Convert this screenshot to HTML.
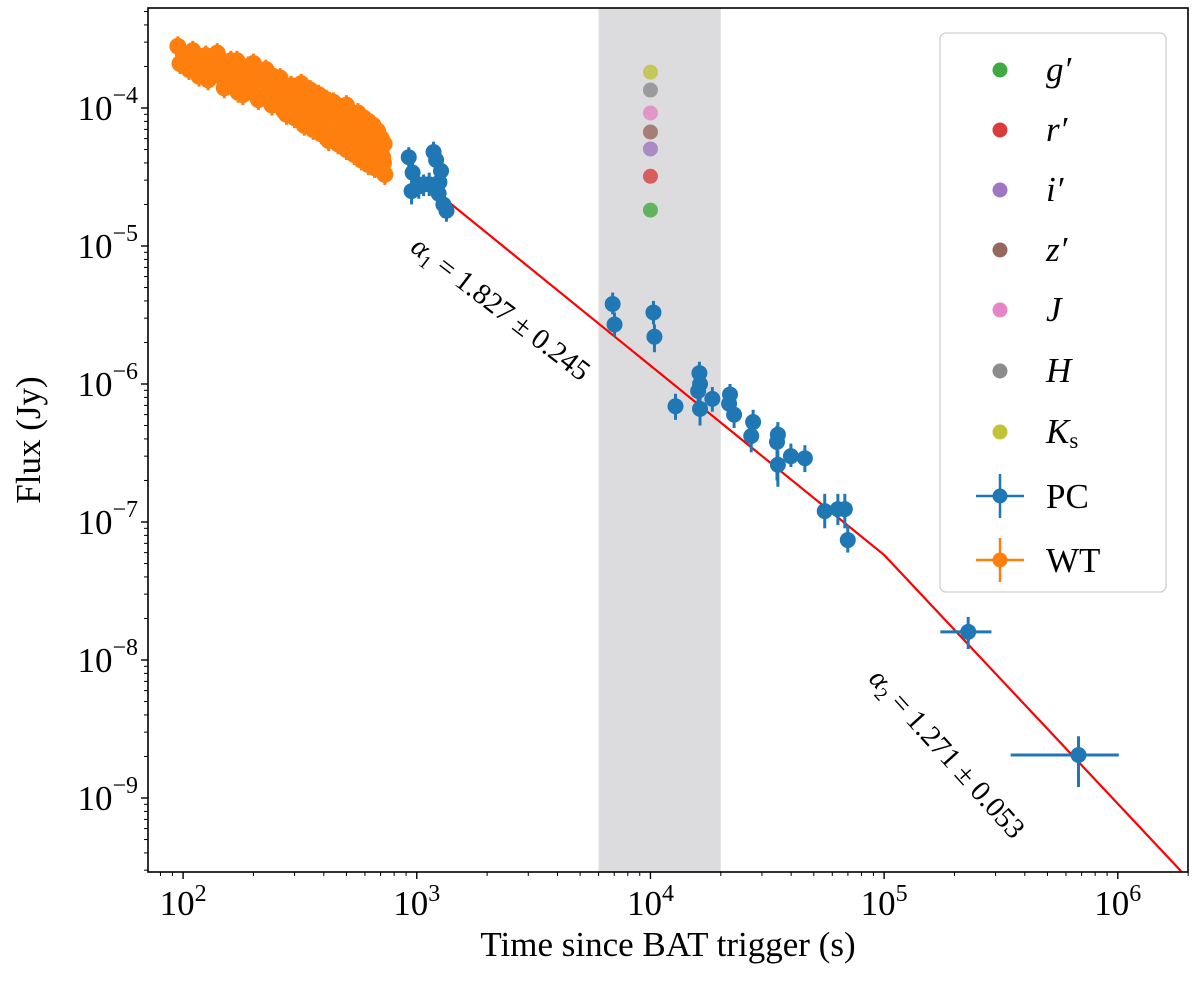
<!DOCTYPE html>
<html><head><meta charset="utf-8">
<style>
html,body{margin:0;padding:0;background:#fff;}
svg{display:block;font-family:"Liberation Serif","DejaVu Serif",serif;}
</style></head>
<body>
<svg id="chart" width="1200" height="982" viewBox="0 0 1200 982" xmlns="http://www.w3.org/2000/svg">
<rect width="1200" height="982" fill="#fff"/>
</svg>
<script>
// ---- data ----
const shadeRange = [6000, 20000];
const optBands = ["g′","r′","i′","z′","J","H","Ks"];
const optColors = ["#2ca02c","#d62728","#9467bd","#8c564b","#e377c2","#7f7f7f","#bcbd22"];
const optTime = [10000,10000,10000,10000,10000,10000,10000];
const optFlux = [1.82e-5,3.2e-5,5.05e-5,6.7e-5,9.2e-5,1.35e-4,1.82e-4];

const wtTime = [95,97,100,103,106,110,113,117,120,124,128,132,136,140,145,150,155,160,166,172,178,184,190,197,204,211,218,226,234,242,250,259,268,277,287,297,307,318,329,340,352,364,377,390,404,418,432,447,463,479,496,513,531,549,568,588,608,629,651,673,696,710,720,730,700,680,660,
 150,165,180,195,210,225,240,255,270,285,300,315,330,345,360,375,390,405,420,440,460,480,500,520,540,560,580,600,620,640,660,690,715,
 110,125,140,170,200,230,260,290,320,350,380,410,440,470,500,530,560,590,620,650,680,705,725];
const wtFlux = [2.8e-4,2.1e-4,2.5e-4,2.2e-4,1.9e-4,2.4e-4,2.0e-4,1.7e-4,2.3e-4,1.9e-4,1.6e-4,2.2e-4,1.8e-4,2.3e-4,1.7e-4,2.0e-4,1.6e-4,2.2e-4,1.8e-4,1.3e-4,1.9e-4,1.6e-4,2.0e-4,1.5e-4,1.8e-4,1.2e-4,1.6e-4,1.9e-4,1.4e-4,1.7e-4,1.1e-4,1.5e-4,1.3e-4,9.0e-5,1.4e-4,1.2e-4,1.0e-4,1.35e-4,1.1e-4,8.5e-5,1.2e-4,9.5e-5,1.1e-4,8.0e-5,1.0e-4,8.8e-5,6.5e-5,9.5e-5,7.5e-5,8.5e-5,6.0e-5,7.8e-5,5.5e-5,7.0e-5,8.0e-5,6.2e-5,5.0e-5,7.2e-5,5.6e-5,6.5e-5,4.5e-5,5.8e-5,4.0e-5,3.3e-5,5.0e-5,3.9e-5,4.8e-5,
 1.4e-4,1.5e-4,1.25e-4,1.35e-4,1.15e-4,1.2e-4,1.05e-4,1.1e-4,9.5e-5,1.0e-4,8.5e-5,9.0e-5,7.5e-5,8.0e-5,7.0e-5,7.2e-5,6.5e-5,6.8e-5,5.8e-5,6.3e-5,5.5e-5,5.9e-5,5.0e-5,5.4e-5,4.6e-5,5.0e-5,4.2e-5,4.6e-5,3.9e-5,4.3e-5,3.7e-5,3.6e-5,4.4e-5,
 2.6e-4,2.4e-4,2.5e-4,2.2e-4,2.1e-4,1.75e-4,1.65e-4,1.45e-4,1.5e-4,1.35e-4,1.25e-4,1.15e-4,1.1e-4,1.0e-4,1.05e-4,9.0e-5,9.2e-5,8.5e-5,8.0e-5,7.5e-5,6.8e-5,6.0e-5,5.5e-5];

const pcTime = [924,960,950,1020,1070,1130,1180,1210,1240,1250,1270,1300,1340,6890,7020,10300,10400,12800,16200,16300,16000,16300,18400,21900,21700,22800,27500,27000,35100,34800,35100,39900,45800,55700,63400,67900,69900,229000,679000];
const pcFlux = [4.4e-5,3.4e-5,2.5e-5,2.7e-5,2.8e-5,2.8e-5,4.8e-5,4.2e-5,2.4e-5,2.9e-5,3.5e-5,2.0e-5,1.8e-5,3.8e-6,2.7e-6,3.3e-6,2.2e-6,6.9e-7,1.2e-6,1.0e-6,8.9e-7,6.6e-7,7.8e-7,8.4e-7,7.2e-7,6.0e-7,5.3e-7,4.2e-7,4.3e-7,3.8e-7,2.6e-7,3.0e-7,2.9e-7,1.2e-7,1.24e-7,1.24e-7,7.4e-8,1.6e-8,2.05e-9];
const pcFluxLo = [3.7e-5,2.8e-5,2.0e-5,2.2e-5,2.3e-5,2.3e-5,4.0e-5,3.5e-5,1.9e-5,2.3e-5,2.9e-5,1.6e-5,1.5e-5,3.2e-6,2.2e-6,2.7e-6,1.7e-6,5.5e-7,9.5e-7,8.0e-7,7.0e-7,5.0e-7,6.3e-7,6.8e-7,5.8e-7,4.8e-7,4.3e-7,3.2e-7,3.5e-7,2.0e-7,1.8e-7,2.5e-7,2.3e-7,9.0e-8,9.5e-8,9.0e-8,6.0e-8,1.2e-8,1.2e-9];
const pcFluxHi = [5.2e-5,4.1e-5,3.0e-5,3.2e-5,3.3e-5,3.4e-5,5.7e-5,5.0e-5,2.9e-5,3.5e-5,4.1e-5,2.4e-5,2.1e-5,4.6e-6,3.3e-6,4.0e-6,2.7e-6,8.5e-7,1.45e-6,1.2e-6,1.1e-6,8.2e-7,9.5e-7,1.0e-6,8.6e-7,7.3e-7,6.5e-7,5.2e-7,5.3e-7,5.0e-7,3.3e-7,3.7e-7,3.6e-7,1.6e-7,1.6e-7,1.6e-7,9.5e-8,2.05e-8,2.8e-9];
const pcTimeLo = [null,null,null,null,null,null,null,null,null,null,null,null,null,null,null,null,null,null,null,null,null,null,null,null,null,null,null,null,null,null,null,null,null,null,null,null,null,174000,348000];
const pcTimeHi = [null,null,null,null,null,null,null,null,null,null,null,null,null,null,null,null,null,null,null,null,null,null,null,null,null,null,null,null,null,null,null,null,null,null,null,null,null,288000,1010000];

const fitTime = [1010, 100000, 1880000];
const fitFlux = [3.16e-5, 5.77e-8, 2.91e-10];

const xTickExp = [2,3,4,5,6];
const yTickExp = [-4,-5,-6,-7,-8,-9];

// ---- axes ----
const L=148, R=1188, T=8, B=872;
const xLogMin = 2 - 35/233, xLogMax = 6 + 70/233;
const yLogMax = -4 + 100/138, yLogMin = -4 - 764/138;
const X = t => L + (Math.log10(t) - xLogMin) / (xLogMax - xLogMin) * (R - L);
const Y = f => T + (yLogMax - Math.log10(f)) / (yLogMax - yLogMin) * (B - T);

const NS="http://www.w3.org/2000/svg";
const svg=document.getElementById('chart');
function mk(tag, attrs, parent){const e=document.createElementNS(NS,tag);for(const k in attrs)e.setAttribute(k,attrs[k]);(parent||svg).appendChild(e);return e;}

const band=mk('rect',{x:X(shadeRange[0]),y:T,width:X(shadeRange[1])-X(shadeRange[0]),height:B-T,fill:'#dcdcde'});



const wtG=mk('g',{});


wtTime.forEach((t,i)=>{
  const x=X(t), y=Y(wtFlux[i]);
  mk('line',{x1:x,x2:x,y1:Y(wtFlux[i]*1.18),y2:Y(wtFlux[i]*0.84),stroke:'#ff7f0e','stroke-width':3},wtG);
  const c=mk('circle',{cx:x,cy:y,r:8.5,fill:'#ff7f0e'},wtG);
  
  
});

const fit=mk('polyline',{points:fitTime.map((t,i)=>X(t)+','+Y(fitFlux[i])).join(' '),fill:'none',stroke:'#ff0000','stroke-width':2.2});



const pcG=mk('g',{});


pcTime.forEach((t,i)=>{
  const x=X(t), y=Y(pcFlux[i]);
  mk('line',{x1:x,x2:x,y1:Y(pcFluxHi[i]),y2:Y(pcFluxLo[i]),stroke:'#1f77b4','stroke-width':3},pcG);
  if(pcTimeLo[i]) mk('line',{x1:X(pcTimeLo[i]),x2:X(pcTimeHi[i]),y1:y,y2:y,stroke:'#1f77b4','stroke-width':3},pcG);
  const c=mk('circle',{cx:x,cy:y,r:8,fill:'#1f77b4'},pcG);
  
  
});

optTime.forEach((t,i)=>{
  const c=mk('circle',{cx:X(t),cy:Y(optFlux[i]),r:7.5,fill:optColors[i],opacity:0.7});
  
  
});

const fr=mk('rect',{x:L,y:T,width:R-L,height:B-T,fill:'none',stroke:'#000','stroke-width':1.6});



for(let e=1;e<=6;e++){for(let m=1;m<10;m++){const v=m*Math.pow(10,e);const x=X(v);if(x<L-0.5||x>R+0.5)continue;
  mk('line',{x1:x,x2:x,y1:B,y2:B+(m===1?7:4),stroke:'#000','stroke-width':m===1?1.4:1});}}
xTickExp.forEach(e=>{
  const tx=mk('text',{x:X(Math.pow(10,e)),y:B+43,'text-anchor':'middle','font-size':35});
  
  
  tx.innerHTML='10<tspan dy="-14" font-size="24">'+e+'</tspan>';
});
for(let e=-11;e<=-3;e++){for(let m=1;m<10;m++){const v=m*Math.pow(10,e);const y=Y(v);if(y<T-0.5||y>B+0.5)continue;
  mk('line',{x1:L,x2:L-(m===1?7:4),y1:y,y2:y,stroke:'#000','stroke-width':m===1?1.4:1});}}
yTickExp.forEach(e=>{
  const tx=mk('text',{x:138,y:Y(Math.pow(10,e))+12,'text-anchor':'end','font-size':35});
  
  
  tx.innerHTML='10<tspan dy="-17" font-size="24">−'+(-e)+'</tspan>';
});
const xl=mk('text',{x:668,y:956,'text-anchor':'middle','font-size':35});


xl.textContent='Time since BAT trigger (s)';
const yl=mk('text',{x:0,y:0,'text-anchor':'middle','font-size':35,transform:'translate(40,440) rotate(-90)'});


yl.textContent='Flux (Jy)';

const a1=mk('text',{x:0,y:0,'text-anchor':'middle','font-size':29,transform:'translate(495,316) rotate(37.5)'});


a1.innerHTML='<tspan font-style="italic">α</tspan><tspan font-size="19" dy="6">1</tspan><tspan dy="-6"> = 1.827 ± 0.245</tspan>';
const a2=mk('text',{x:0,y:0,'text-anchor':'middle','font-size':29,transform:'translate(940,760) rotate(48)'});


a2.innerHTML='<tspan font-style="italic">α</tspan><tspan font-size="19" dy="6">2</tspan><tspan dy="-6"> = 1.271 ± 0.053</tspan>';

const lg=mk('g',{});


mk('rect',{x:940,y:33,width:226,height:559,rx:6,fill:'#fff','fill-opacity':0.85,stroke:'#d0d0d0','stroke-width':1.3},lg);
const legY=[70,130,190,250,310,371,432,496,560];
optBands.forEach((b,i)=>{
  const y=legY[i];
  mk('circle',{cx:1000,cy:y,r:7.5,fill:optColors[i],opacity:0.9},lg);
  const t=mk('text',{x:1046,y:y+11,'font-size':35,'font-style':'italic'},lg);
  
  
  if(b==='Ks') t.innerHTML='K<tspan font-style="normal" font-size="23" dy="5">s</tspan>'; else t.textContent=b;
});
[['PC','#1f77b4'],['WT','#ff7f0e']].forEach((p,j)=>{
  const y=legY[7+j];
  mk('line',{x1:976,x2:1024,y1:y,y2:y,stroke:p[1],'stroke-width':2.5},lg);
  mk('line',{x1:1000,x2:1000,y1:y-22,y2:y+22,stroke:p[1],'stroke-width':2.5},lg);
  mk('circle',{cx:1000,cy:y,r:7.5,fill:p[1]},lg);
  const t=mk('text',{x:1046,y:y+12,'font-size':35},lg);
  
  
  t.textContent=p[0];
});
</script>
</body></html>
